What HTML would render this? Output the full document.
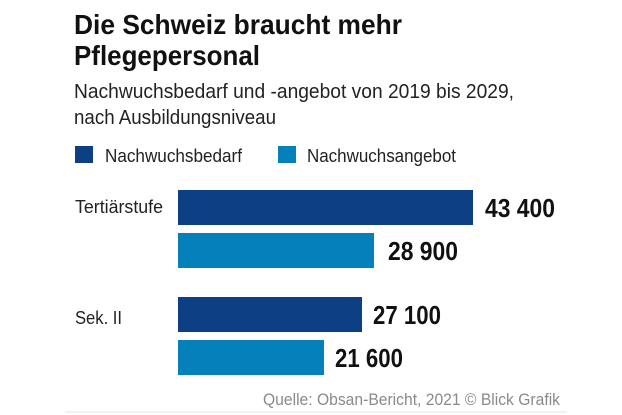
<!DOCTYPE html>
<html><head><meta charset="utf-8"><style>html,body{margin:0;padding:0;background:#fff}svg{display:block}</style></head><body>
<svg width="622" height="415" viewBox="0 0 622 415" xmlns="http://www.w3.org/2000/svg" font-family="Liberation Sans, Arial, sans-serif">
<text x="74" y="34" font-size="28" font-weight="bold" fill="#111" textLength="328" lengthAdjust="spacingAndGlyphs">Die Schweiz braucht mehr</text>
<text x="74" y="65" font-size="28" font-weight="bold" fill="#111" textLength="186" lengthAdjust="spacingAndGlyphs">Pflegepersonal</text>
<text x="74" y="98" font-size="20" fill="#222" textLength="440" lengthAdjust="spacingAndGlyphs">Nachwuchsbedarf und -angebot von 2019 bis 2029,</text>
<text x="74" y="124" font-size="20" fill="#222" textLength="202" lengthAdjust="spacingAndGlyphs">nach Ausbildungsniveau</text>
<rect x="75" y="146" width="18" height="17" fill="#0d3f84"/>
<text x="105" y="162" font-size="18" fill="#222" textLength="137" lengthAdjust="spacingAndGlyphs">Nachwuchsbedarf</text>
<rect x="278" y="146" width="18" height="17" fill="#0680bb"/>
<text x="307" y="162" font-size="18" fill="#222" textLength="149" lengthAdjust="spacingAndGlyphs">Nachwuchsangebot</text>
<text x="75" y="213" font-size="18" fill="#222" textLength="88" lengthAdjust="spacingAndGlyphs">Tertiärstufe</text>
<text x="75" y="324" font-size="18" fill="#222" textLength="47" lengthAdjust="spacingAndGlyphs">Sek. II</text>
<rect x="178" y="190" width="295" height="35" fill="#0d3f84"/>
<rect x="178" y="233" width="196" height="35" fill="#0680bb"/>
<rect x="178" y="297" width="184" height="35" fill="#0d3f84"/>
<rect x="178" y="340" width="146" height="35" fill="#0680bb"/>
<g font-size="26" font-weight="bold" fill="#111">
<text x="485" y="217" textLength="70" lengthAdjust="spacingAndGlyphs">43 400</text>
<text x="388" y="260" textLength="70" lengthAdjust="spacingAndGlyphs">28 900</text>
<text x="373" y="324" textLength="68" lengthAdjust="spacingAndGlyphs">27 100</text>
<text x="335" y="367" textLength="68" lengthAdjust="spacingAndGlyphs">21 600</text>
</g>
<text x="263" y="405" font-size="17" fill="#8a8a8a" textLength="297" lengthAdjust="spacingAndGlyphs">Quelle: Obsan-Bericht, 2021  © Blick Grafik</text>
<rect x="65" y="411" width="502" height="2" fill="#f2f2f2"/>
</svg>
</body></html>
